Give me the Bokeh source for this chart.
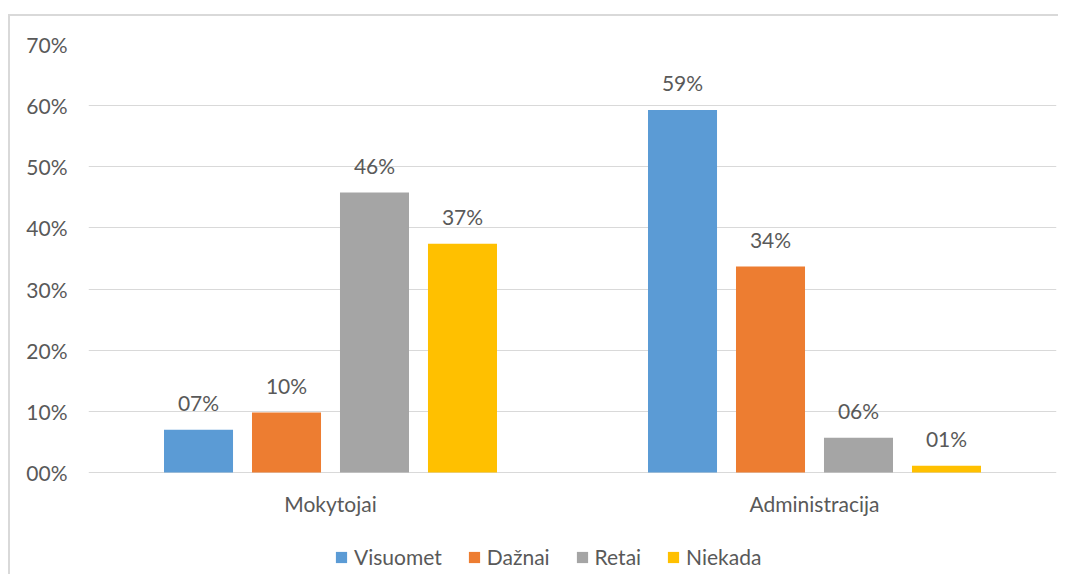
from bokeh.plotting import figure
from bokeh.models import ColumnDataSource, FactorRange, FixedTicker, Legend, LegendItem, Range1d
from bokeh.transform import dodge
from bokeh.core.properties import value
from bokeh.embed import file_html
from bokeh.resources import INLINE

groups = ["Mokytojai", "Administracija"]
series = ["Visuomet", "Dažnai", "Retai", "Niekada"]
visuomet = [7.0, 59.3]
daznai = [9.8, 33.7]
retai = [45.8, 5.7]
niekada = [37.4, 1.1]
y_ticks = [0, 10, 20, 30, 40, 50, 60, 70]
y_tick_labels = ["00%", "10%", "20%", "30%", "40%", "50%", "60%", "70%"]

colors = ["#5B9BD5", "#ED7D31", "#A5A5A5", "#FFC000"]
FONT = "Lato"
TXT = "#595959"

data = dict(groups=groups, Visuomet=visuomet, Dažnai=daznai, Retai=retai, Niekada=niekada,
            base=[0] * len(groups))
for s in series:
    data[s + "_lbl"] = ["%02d%%" % round(v) for v in data[s]]
src = ColumnDataSource(data)

# frame extends below zero so the category labels and legend sit inside it
y_max = 70
y_min = -y_max * 104 / 428

p = figure(x_range=FactorRange(*groups), y_range=Range1d(y_min, y_max),
           width=1050, height=560, output_backend="svg", toolbar_location=None,
           min_border_left=78, min_border_right=4, min_border_top=28, min_border_bottom=0,
           x_axis_location=None,
           styles={"border-top": "2px solid #D9D9D9", "border-left": "2px solid #D9D9D9",
                   "margin-top": "14px", "margin-left": "8px"})
p.outline_line_color = None
p.xgrid.grid_line_color = None
p.ygrid.ticker = FixedTicker(ticks=y_ticks)
p.ygrid.grid_line_color = "#D9D9D9"
p.ygrid.grid_line_width = 1
p.yaxis.ticker = FixedTicker(ticks=y_ticks)
p.yaxis.major_label_overrides = {t: l for t, l in zip(y_ticks, y_tick_labels)}
p.yaxis.axis_line_color = None
p.yaxis.major_tick_line_color = None
p.yaxis.minor_tick_line_color = None
p.yaxis.major_label_standoff = 15
p.yaxis.major_label_text_font = FONT
p.yaxis.major_label_text_font_size = "21px"
p.yaxis.major_label_text_color = TXT

# category labels
p.text(x="groups", y="base", text="groups", source=src, text_align="center",
       text_baseline="middle", y_offset=31, text_font=value(FONT),
       text_font_size="21px", text_color=TXT)

step = 0.1818
width = 0.1426
items = []
for i, (s, c) in enumerate(zip(series, colors)):
    off = (i - 1.5) * step
    r = p.vbar(x=dodge("groups", off, range=p.x_range), top=s, width=width, source=src,
               fill_color=c, line_color=None)
    p.text(x=dodge("groups", off, range=p.x_range), y=s, text=s + "_lbl", source=src,
           text_align="center", text_baseline="alphabetic", y_offset=-27,
           text_font=value(FONT), text_font_size="21px", text_color=TXT)
    items.append(LegendItem(label=s, renderers=[r]))

legend = Legend(items=items, orientation="horizontal", location=(246, 7),
                glyph_width=14, glyph_height=14, label_standoff=6, spacing=25,
                padding=0, margin=0, border_line_color=None, background_fill_alpha=0,
                label_text_font=FONT, label_text_font_size="21px", label_text_color=TXT)
p.add_layout(legend, "center")

open("out.html", "w").write(file_html(p, INLINE))
